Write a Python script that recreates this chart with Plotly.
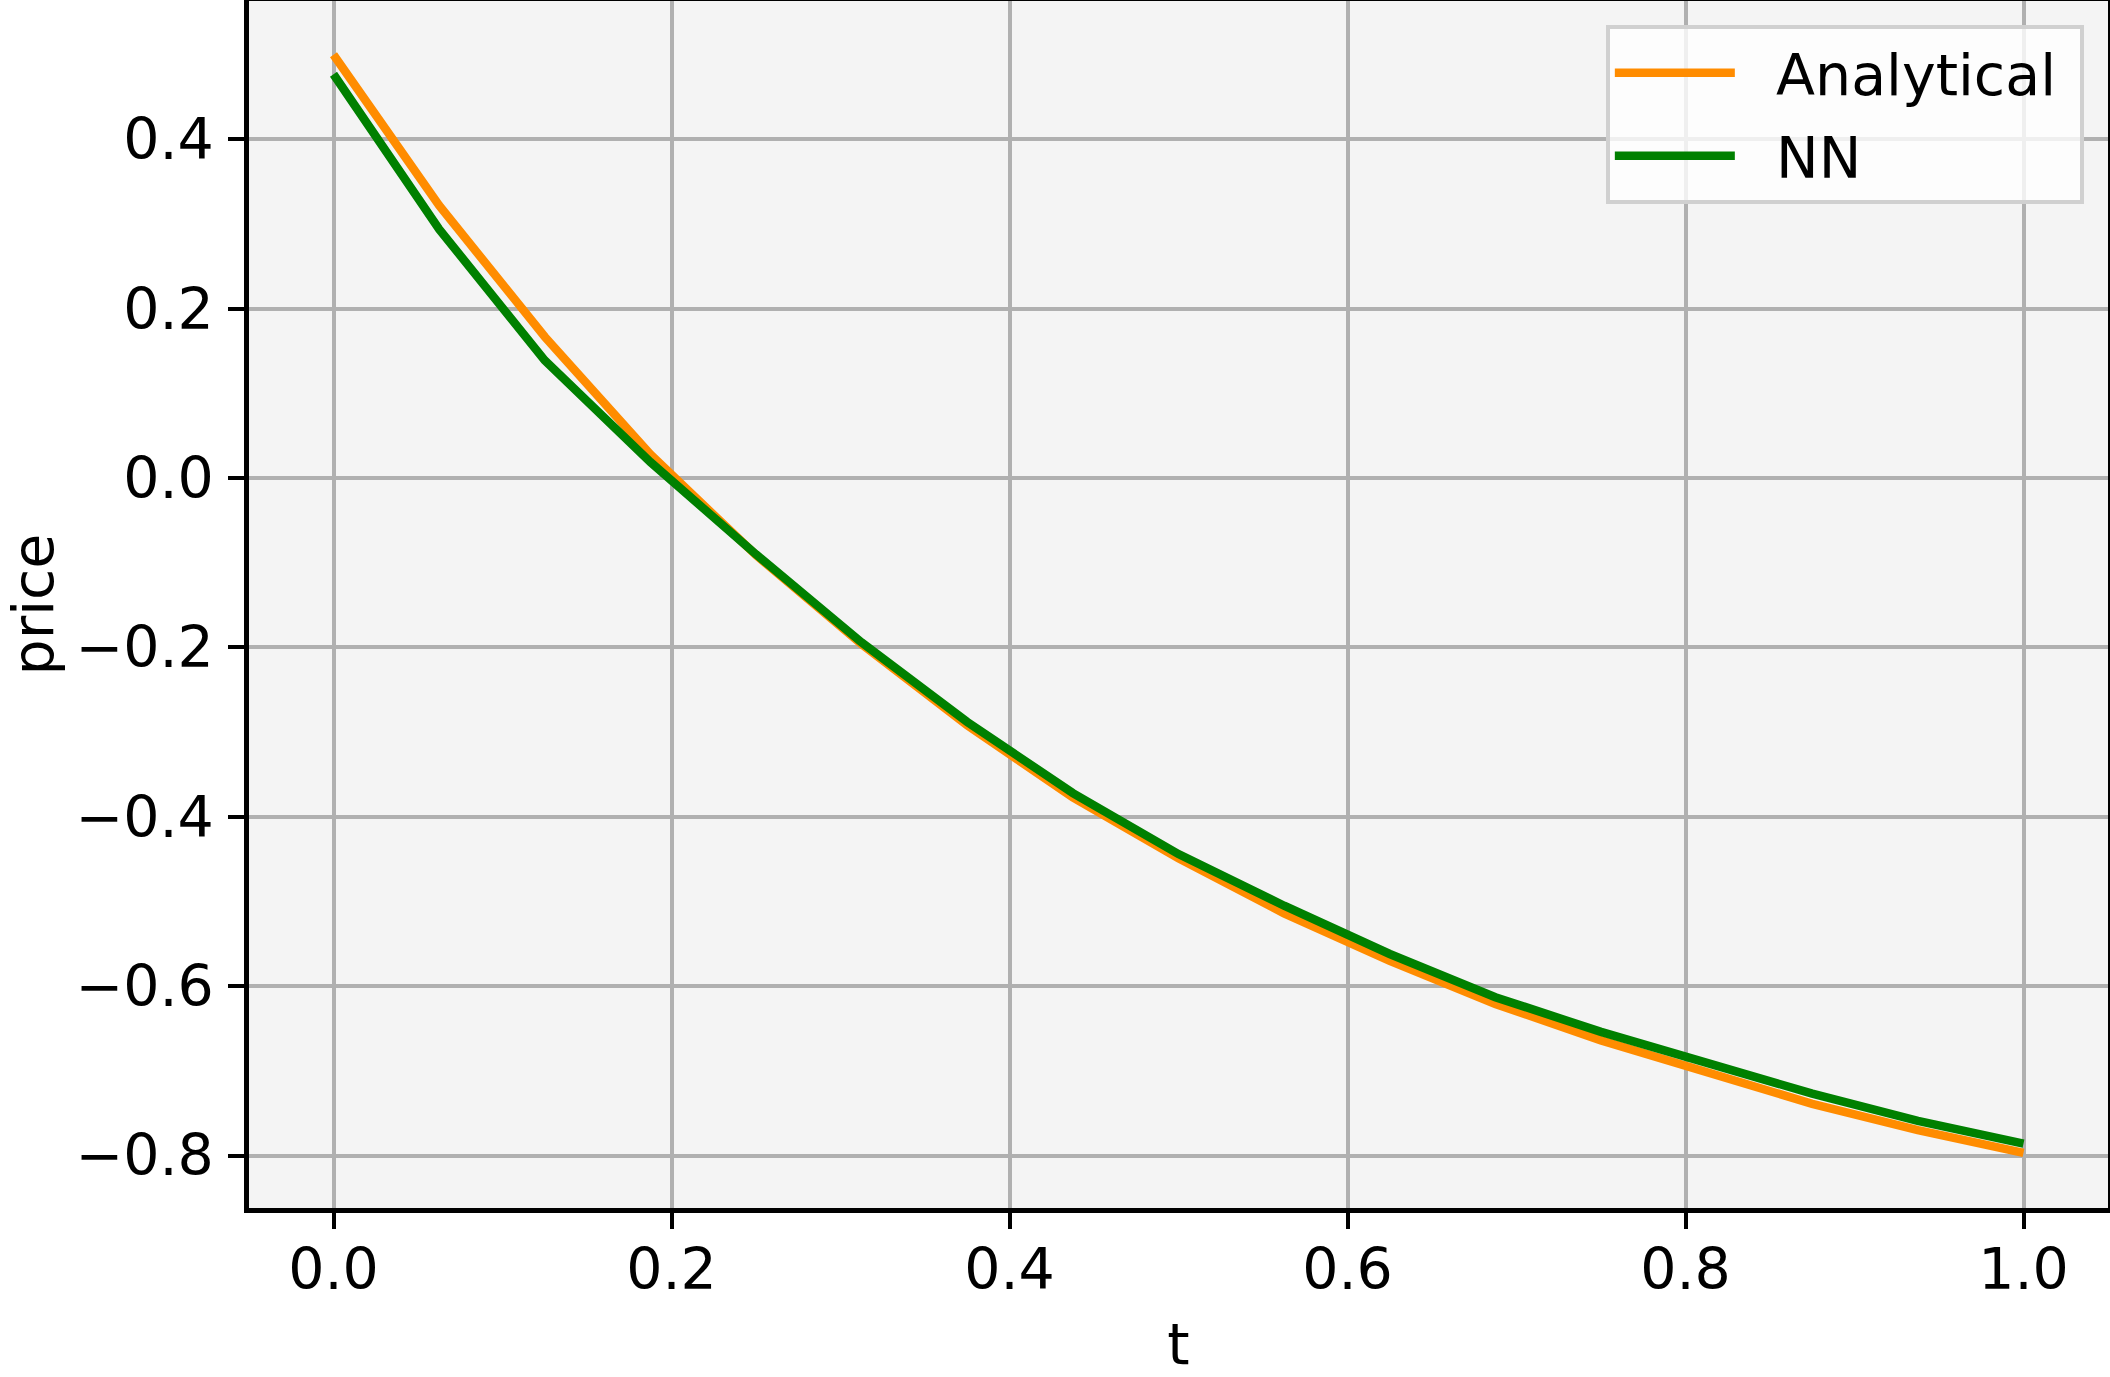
import plotly.graph_objects as go

# ---- data ----
t_values = [0.0, 0.0625, 0.125, 0.1875, 0.25, 0.3125, 0.375, 0.4375, 0.5,
            0.5625, 0.625, 0.6875, 0.75, 0.8125, 0.875, 0.9375, 1.0]
analytical_price = [0.500, 0.322, 0.167, 0.028, -0.091, -0.196, -0.292, -0.377, -0.449,
                    -0.514, -0.570, -0.621, -0.664, -0.701, -0.739, -0.770, -0.797]
nn_price = [0.477, 0.294, 0.139, 0.019, -0.090, -0.194, -0.288, -0.372, -0.444,
            -0.505, -0.562, -0.613, -0.654, -0.690, -0.727, -0.759, -0.786]

x_tick_vals = [0.0, 0.2, 0.4, 0.6, 0.8, 1.0]
x_tick_text = ["0.0", "0.2", "0.4", "0.6", "0.8", "1.0"]
y_tick_vals = [0.4, 0.2, 0.0, -0.2, -0.4, -0.6, -0.8]
y_tick_text = ["0.4", "0.2", "0.0", "\u22120.2", "\u22120.4", "\u22120.6", "\u22120.8"]

series_names = ["\u00a0\u00a0Analytical\u00a0", "\u00a0\u00a0NN"]

FONT = "DejaVu Sans"
FS = 57

fig = go.Figure()
fig.add_trace(go.Scatter(x=t_values, y=analytical_price, mode="lines", name=series_names[0],
                         legendgroup="a", line=dict(color="#ff8c00", width=8.5)))
fig.add_trace(go.Scatter(x=t_values, y=nn_price, mode="lines", name=series_names[1],
                         legendgroup="b", line=dict(color="#008000", width=8.5)))

axis_common = dict(
    showgrid=True, gridcolor="#b0b0b0", gridwidth=4,
    showline=True, linecolor="black", linewidth=4.5, mirror=True,
    ticks="outside", ticklen=16, tickwidth=4, tickcolor="black",
    zeroline=False, automargin=False,
    tickfont=dict(family=FONT, size=FS, color="black"),
)

fig.update_layout(
    width=2110, height=1377,
    margin=dict(l=249, r=2, t=1, b=169, pad=0),
    paper_bgcolor="white", plot_bgcolor="#f4f4f4",
    font=dict(family=FONT, size=FS, color="black"),
    xaxis=dict(range=[-0.05, 1.05], tickvals=x_tick_vals, ticktext=x_tick_text,
               title=dict(text="t", font=dict(family=FONT, size=FS), standoff=27),
               ticklabelstandoff=-8, **axis_common),
    yaxis=dict(range=[-0.862, 0.5635], tickvals=y_tick_vals, ticktext=y_tick_text,
               title=dict(text="price", font=dict(family=FONT, size=FS), standoff=34),
               ticklabelstandoff=3, **axis_common),
    legend=dict(x=0.987, y=0.98, xanchor="right", yanchor="top",
                bgcolor="rgba(255,255,255,0.8)", bordercolor="#d0d0d0", borderwidth=4,
                font=dict(family=FONT, size=FS, color="black"), itemwidth=120,
                traceorder="grouped", tracegroupgap=6),
    showlegend=True,
)

fig.write_html("out.html", config={"displayModeBar": False},
               post_script="document.body.style.margin='0px';document.body.style.overflow='hidden';")
